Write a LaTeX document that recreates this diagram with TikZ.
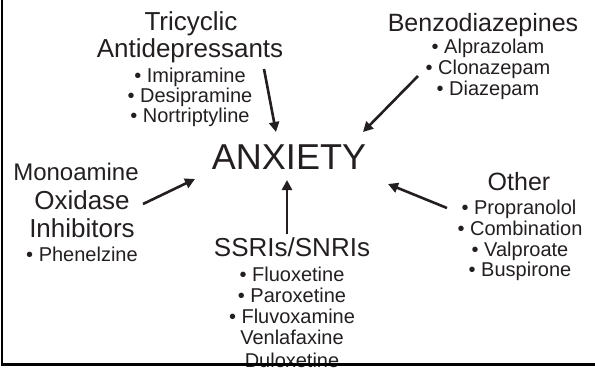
\documentclass[tikz,border=0pt]{standalone}
\usepackage{fontspec}
\setmainfont{Liberation Sans}
\usetikzlibrary{arrows.meta}
\definecolor{ink}{RGB}{35,31,32}
\tikzset{
  txt/.style={inner sep=0pt, anchor=base, text=ink},
  head/.style={txt, font=\fontsize{26}{28}\selectfont},
  item/.style={txt, font=\fontsize{20}{21}\selectfont},
  big/.style={txt, font=\fontsize{36}{38}\selectfont},
  arr/.style={draw=ink, line width=2.6pt, -{Triangle[length=10pt,width=10pt]}},
  frame/.style={draw=black, line width=2.5pt}
}
\begin{document}
\begin{tikzpicture}[x=1pt,y=-1pt]
\useasboundingbox (0,0) rectangle (595,368);
% Tricyclic
\node[head] (tca1) at (191,30) {Tricyclic};
\node[head] (tca2) at (190,57) {Antidepressants};
\node[item] (tca3) at (190,82) {• Imipramine};
\node[item] (tca4) at (190,102) {• Desipramine};
\node[item] (tca5) at (190,122) {• Nortriptyline};
% Benzodiazepines
\node[head, font=\fontsize{25}{27}\selectfont] (bz1) at (483,31) {Benzodiazepines};
\node[item] (bz2) at (488,53) {• Alprazolam};
\node[item] (bz3) at (488,74) {• Clonazepam};
\node[item] (bz4) at (488,95) {• Diazepam};
% Anxiety
\node[big] (anx) at (289,169) {ANXIETY};
% MAOI
\node[head, font=\fontsize{24}{26}\selectfont] (mao1) at (76,180) {Monoamine};
\node[head] (mao2) at (82,209) {Oxidase};
\node[head] (mao3) at (82,237) {Inhibitors};
\node[item] (mao4) at (82,261) {• Phenelzine};
% SSRIs
\node[head] (ssri1) at (292,256) {SSRIs/SNRIs};
\node[item] (ssri2) at (292,281) {• Fluoxetine};
\node[item] (ssri3) at (292,302) {• Paroxetine};
\node[item] (ssri4) at (292,323) {• Fluvoxamine};
\node[item] (ssri5) at (292,344) {Venlafaxine};
\node[item] (ssri6) at (292,367) {Duloxetine};
% Other
\node[head, font=\fontsize{25}{27}\selectfont] (oth1) at (519,190) {Other};
\node[item] (oth2) at (519,214) {• Propranolol};
\node[item] (oth3) at (520,235) {• Combination};
\node[item] (oth4) at (520,256) {• Valproate};
\node[item] (oth5) at (520,276) {• Buspirone};
% arrow end points
\coordinate (aTs) at (264,69);  \coordinate (aTe) at (276,132);
\coordinate (aBs) at (418,76);  \coordinate (aBe) at (363,132);
\coordinate (aMs) at (143,204); \coordinate (aMe) at (195,179);
\coordinate (aSs) at (287,234); \coordinate (aSe) at (287,180);
\coordinate (aOs) at (447,208); \coordinate (aOe) at (388,184);
\draw[arr] (aTs) -- (aTe);
\draw[arr] (aBs) -- (aBe);
\draw[arr] (aMs) -- (aMe);
\draw[arr] (aSs) -- (aSe);
\draw[arr] (aOs) -- (aOe);
% frame
\coordinate (f1) at (2.2,0);
\coordinate (f2) at (2.2,364.5);
\coordinate (f3) at (595,364.5);
\draw[frame] (f1) -- (f2) -- (f3);
\end{tikzpicture}
\end{document}
